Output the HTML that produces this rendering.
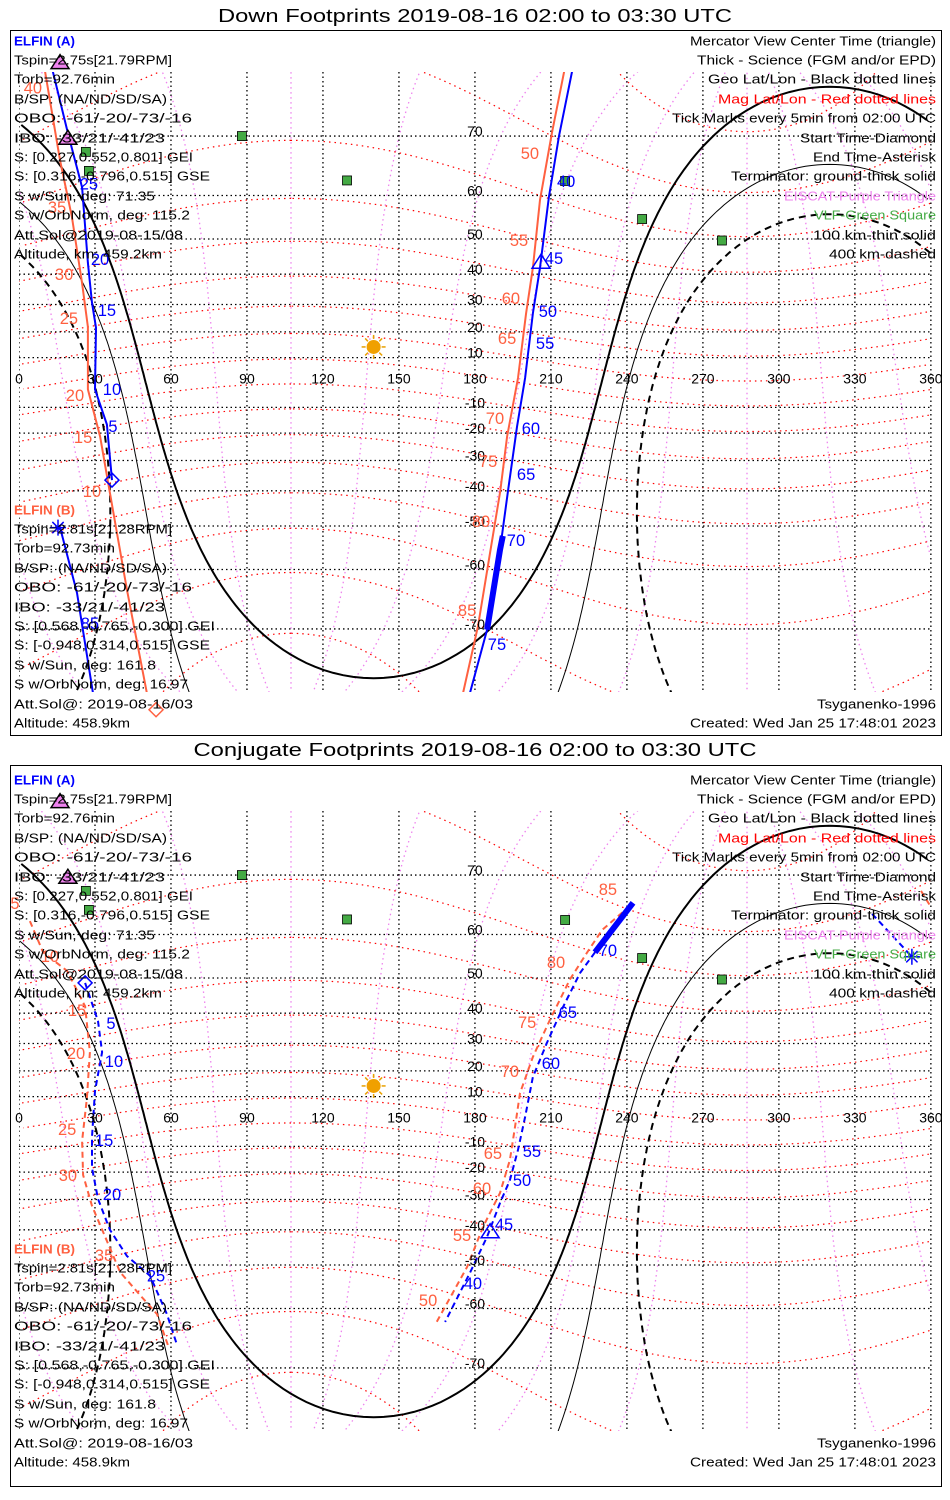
<!DOCTYPE html>
<html><head><meta charset="utf-8"><style>
html,body{margin:0;padding:0;background:#fff;}
svg{display:block;font-family:"Liberation Sans",sans-serif;}
</style></head><body>
<svg id="chart" width="950" height="1500" viewBox="0 0 950 1500" xmlns="http://www.w3.org/2000/svg">
<defs>
<clipPath id="clipTop"><rect x="19" y="72" width="913" height="620"/></clipPath>
<clipPath id="clipBot"><rect x="19" y="811" width="913" height="620"/></clipPath>
</defs>
<rect x="0" y="0" width="950" height="1500" fill="#fff"/>
<text x="475" y="22" text-anchor="middle" font-size="18" textLength="514" lengthAdjust="spacingAndGlyphs">Down Footprints 2019-08-16 02:00 to 03:30 UTC</text>
<text x="475" y="756" text-anchor="middle" font-size="18" textLength="563" lengthAdjust="spacingAndGlyphs">Conjugate Footprints 2019-08-16 02:00 to 03:30 UTC</text>
<rect x="10.5" y="30.5" width="931" height="705" fill="none" stroke="#000" stroke-width="1"/>
<rect x="10.5" y="765.5" width="931" height="721" fill="none" stroke="#000" stroke-width="1"/>
<g id="gTop" clip-path="url(#clipTop)"></g>
<g id="gBot" clip-path="url(#clipBot)"></g>
<g id="gLabels"></g>
<g id="gText"></g>
</svg>
<script>
// ---------- data ----------
const subsolarLon = 140, subsolarLat = 14.2;
const terminatorRadii = [90, 100.1, 109.8];
const magPoleLat = 80.6, magPoleLon = 287.4;
const magLatValues = [-80,-70,-60,-50,-40,-30,-20,-10,0,10,20,30,40,50,60,70,80];
const magLonBearings = [0,30,60,90,120,150,180,210,240,270,300,330];
const geoLatTicks = [-70,-60,-50,-40,-30,-20,-10,10,20,30,40,50,60,70];
const geoLonTicks = [0,30,60,90,120,150,180,210,240,270,300,330,360];
const eiscatLon = [16.2, 19.3], eiscatLat = [78.0, 69.7];
const vlfLon = [88, 26.4, 27.6, 129.5, 215.6, 246, 277.5];
const vlfLat = [70, 67.7, 64.6, 62.9, 62.8, 54.9, 49.6];

// Down footprints (top panel)
const downA1Lon = [36.7,34.7,30.0,30.4,28.8,27.2,24.9,19.3,13.4];
const downA1Lat = [-36.6,-16.7,-2.8,21.6,30.6,43.4,61.6,70.4,77.2];
const downA2Lon = [218.3,213.2,209.2,205.7,202.9,199.8,196.6,193.1,189.9,184.8,178.0];
const downA2Lat = [77.2,70.0,59.7,42.0,26.9,1.8,-17.6,-39.8,-55.8,-70.1,-77.2];
const downA3Lon = [16.2,22.9,29.2];
const downA3Lat = [-50.3,-64.4,-77.2];
const downAThickLon = [191.0,189.9,184.8];
const downAThickLat = [-52.5,-55.8,-70.1];
const downB1Lon = [10.3,16.2,20.9,24.9,27.2,27.2,32.0,35.9,42.6,50.5];
const downB1Lat = [77.2,66.4,55.4,37.1,21.9,-2.8,-21.3,-40.6,-63.8,-77.2];
const downB2Lon = [215.2,210.4,205.7,202.9,200.2,197.0,192.7,190.0,186.0,181.2,175.3];
const downB2Lat = [77.2,70.4,59.1,42.0,26.9,1.8,-21.3,-40.0,-56.4,-69.6,-77.2];
const downATickText = ['40','45','50','55','60','65','70','75','25','20','15','10','5','85'];
const downATickLon = [216.0,211.2,208.8,207.7,202.1,200.2,196.2,188.7,27.6,32.0,34.7,36.7,37.1,28.0];
const downATickLat = [62.8,44.8,27.7,15.7,-18.0,-34.6,-53.5,-72.0,62.3,44.5,28.1,-2.6,-17.3,-69.2];
const downBTickText = ['40','35','30','25','20','15','10','50','55','60','65','70','75','80','85'];
const downBTickLon = [5.5,15.0,17.8,19.7,22.1,25.3,28.8,201.7,197.4,194.2,192.7,187.9,185.2,182.4,176.9];
const downBTickLat = [75.7,57.6,40.0,25.2,-5.0,-21.5,-40.0,67.5,49.7,32.2,17.6,-14.2,-30.2,-48.7,-67.2];
const downAStart = [36.7,-36.6], downAEnd = [15.4,-50.4], downACenter = [206.1,43.6];
const downBStart = [54.1,-78.6];

// Conjugate footprints (bottom panel)
const conjA1Lon = [227.4,221.5,214.8,208.4,202.9,199.8,197.0,193.8,189.9,184.8,178.0,168.2];
const conjA1Lat = [56.2,51.3,41.9,30.2,17.7,1.8,-11.4,-23.0,-31.2,-42.1,-52.0,-62.6];
const conjAThickLon = [242.4,227.4];
const conjAThickLat = [65.8,56.2];
const conjA2Lon = [26.1,31.2,32.8,30.0,28.8,28.8,31.2,35.9,42.6,51.7,58.4,62.4];
const conjA2Lat = [48.7,37.5,26.9,12.2,-6.2,-18.4,-29.8,-40.0,-47.6,-52.7,-61.1,-66.6];
const conjA3Lon = [336.8,352.5];
const conjA3Lat = [63.9,55.2];
const conjB1Lon = [241.2,230.2,224.2,217.5,209.6,202.9,197.8,195.8,193.8,189.9,183.2,176.9,164.2];
const conjB1Lat = [65.3,60.9,56.1,49.6,37.9,25.2,11.4,-2.2,-15.3,-27.7,-39.1,-50.5,-63.2];
const conjB2Lon = [4.3,9.5,19.0,26.1,28.0,26.8,24.9,25.3,28.8,34.0,39.9,47.8,54.5,58.8];
const conjB2Lat = [62.6,56.2,51.8,42.1,26.9,9.4,-7.8,-21.1,-32.2,-42.1,-51.8,-57.2,-61.1,-66.6];
const conjB3Lon = [356.1,360];
const conjB3Lat = [67.7,65.1];
const conjATickText = ['70','65','60','55','50','45','40','5','10','15','20','25'];
const conjATickLon = [232.5,216.7,210.0,202.5,198.6,191.5,179.2,36.3,37.5,33.6,36.7,54.1];
const conjATickLat = [56.7,40.4,23.0,-11.8,-23.0,-38.2,-54.4,36.9,23.7,-7.4,-28.1,-52.7];
const conjBTickText = ['85','80','75','70','65','60','55','50','5','10','15','20','25','30','35'];
const conjBTickLon = [232.5,212.0,200.6,193.8,187.1,182.8,174.9,161.5,-1.6,12.2,22.9,22.5,19.0,19.3,33.6];
const conjBTickLat = [68.0,54.0,37.2,20.0,-12.6,-25.9,-41.6,-58.2,65.8,55.4,41.0,26.6,-3.0,-21.1,-47.3];
const conjAStart = [26.1,48.7], conjAEnd = [352.5,55.2], conjACenter = [186.0,-40.6];

// ---------- projection ----------
const NS = 'http://www.w3.org/2000/svg';
const D = Math.PI/180;
function X(lon){ return 19 + 2.533*lon; }
function Y(lat, y0){ const l = Math.max(-85, Math.min(85, lat))*D; return y0 - 142*Math.log(Math.tan(Math.PI/4 + l/2)); }
function mk(tag, attrs, parent){ const e = document.createElementNS(NS, tag); for (const k in attrs) e.setAttribute(k, attrs[k]); parent.appendChild(e); return e; }
function pathD(lons, lats, y0){
  let d = '';
  for (let i=0;i<lons.length;i++){
    const brk = i===0 || Math.abs(lons[i]-lons[i-1])>180;
    d += (brk?'M':'L') + X(lons[i]).toFixed(1) + ' ' + Y(lats[i],y0).toFixed(1) + ' ';
  }
  return d;
}
function smallCircle(clat, clon, r, step){
  const lons=[], lats=[];
  const a=clat*D, rr=r*D;
  for (let b=0;b<=360;b+=step){
    const bb=b*D;
    const la = Math.asin(Math.sin(a)*Math.cos(rr)+Math.cos(a)*Math.sin(rr)*Math.cos(bb));
    let lo = clon + Math.atan2(Math.sin(bb)*Math.sin(rr)*Math.cos(a), Math.cos(rr)-Math.sin(a)*Math.sin(la))/D;
    lo = ((lo%360)+360)%360;
    lons.push(lo); lats.push(la/D);
  }
  return [lons,lats];
}
function meridian(clat, clon, bearing){
  const lons=[], lats=[];
  const a=clat*D, bb=bearing*D;
  for (let r=0;r<=180;r+=1){
    const rr=r*D;
    const la = Math.asin(Math.sin(a)*Math.cos(rr)+Math.cos(a)*Math.sin(rr)*Math.cos(bb));
    let lo = clon + Math.atan2(Math.sin(bb)*Math.sin(rr)*Math.cos(a), Math.cos(rr)-Math.sin(a)*Math.sin(la))/D;
    lo = ((lo%360)+360)%360;
    lons.push(lo); lats.push(la/D);
  }
  return [lons,lats];
}

const BLUE='#0000ff', ORANGE='#ff6040', PURPLE='#ee82ee', GREEN='#44aa44';
const panels = [
  {g: document.getElementById('gTop'), y0: 382.5, top: 72, bottom: 692, name: 'top'},
  {g: document.getElementById('gBot'), y0: 1121.5, top: 811, bottom: 1431, name: 'bottom'}
];
const gL = document.getElementById('gLabels');

panels.forEach(P => {
  const g = P.g, y0 = P.y0;
  magLonBearings.forEach(b => {
    const [lo,la] = meridian(magPoleLat, magPoleLon, b);
    const e = mk('path',{d:pathD(lo,la,y0), fill:'none', stroke:PURPLE, 'stroke-width':1.3, 'stroke-dasharray':'1.5 3.5'}, g);
    
    
  });
  magLatValues.forEach(m => {
    const [lo,la] = smallCircle(magPoleLat, magPoleLon, 90-m, 2);
    const e = mk('path',{d:pathD(lo,la,y0), fill:'none', stroke:'#ff0000', 'stroke-width':1.2, 'stroke-dasharray':'1.5 4'}, g);
    
    
  });
  geoLatTicks.forEach(lat => {
    const y = Y(lat,y0);
    const e = mk('line',{x1:19,x2:932,y1:y,y2:y,stroke:'#000','stroke-width':1.3,'stroke-dasharray':'1.5 3'}, g);
    
    
  });
  geoLonTicks.forEach(lon => {
    const x = X(lon);
    const e = mk('line',{x1:x,x2:x,y1:P.top,y2:P.bottom,stroke:'#000','stroke-width':1.3,'stroke-dasharray':'1.5 3'}, g);
    
    
  });
  terminatorRadii.forEach((r,i) => {
    const [lo,la] = smallCircle(subsolarLat, subsolarLon, r, 1);
    const st = i===0 ? {w:2,da:''} : (i===1 ? {w:1,da:''} : {w:2,da:'7 5'});
    const attrs = {d:pathD(lo,la,y0), fill:'none', stroke:'#000', 'stroke-width':st.w};
    if (st.da) attrs['stroke-dasharray']=st.da;
    const e = mk('path', attrs, g);
    
    
  });
  const sx=X(subsolarLon), sy=Y(subsolarLat,y0);
  for (let k=0;k<8;k++){
    const a=k*Math.PI/4;
    const ray = mk('line',{x1:sx+8*Math.cos(a),y1:sy+8*Math.sin(a),x2:sx+12*Math.cos(a),y2:sy+12*Math.sin(a),stroke:'#e8a000','stroke-width':1.5}, g);
    
    
  }
  const sun = mk('circle',{cx:sx,cy:sy,r:7,fill:'#f0a000'}, g);
  
  
  vlfLon.forEach((lo,i) => {
    const sq = mk('rect',{x:X(lo)-4.5,y:Y(vlfLat[i],y0)-4.5,width:9,height:9,fill:GREEN,stroke:'#000','stroke-width':0.8}, g);
    
    
  });
  geoLonTicks.forEach(lon => {
    const t = mk('text',{x:X(lon),y:y0+1,'text-anchor':'middle','font-size':14}, gL);
    t.textContent = String(lon);
    
    
  });
  geoLatTicks.forEach(lat => {
    const t = mk('text',{x:X(180),y:Y(lat,y0),'text-anchor':'middle','font-size':14}, gL);
    t.textContent = String(lat);
    
    
  });
});

function track(P, lons, lats, color, width, dash, name){
  const attrs = {d:pathD(lons,lats,P.y0), fill:'none', stroke:color, 'stroke-width':width, 'stroke-linecap':'butt'};
  if (dash) attrs['stroke-dasharray']=dash;
  const e = mk('path', attrs, P.g);
  
  
}
function ticks(P, txt, lons, lats, color, name){
  txt.forEach((s,i) => {
    const t = mk('text',{x:X(lons[i]),y:Y(lats[i],P.y0)+6,'text-anchor':'middle','font-size':16.5,fill:color}, gL);
    t.textContent = s;
    
    
  });
}
function diamond(P, pt, color, name){
  const x=X(pt[0]), y=Y(pt[1],P.y0);
  const e = mk('path',{d:`M${x} ${y-7} L${x+7} ${y} L${x} ${y+7} L${x-7} ${y} Z`, fill:'none', stroke:color,'stroke-width':1.5}, gL);
  
  
}
function asterisk(P, pt, color, name){
  const x=X(pt[0]), y=Y(pt[1],P.y0);
  let d='';
  for (let k=0;k<4;k++){ const a=k*Math.PI/4; d+=`M${x-8*Math.cos(a)} ${y-8*Math.sin(a)} L${x+8*Math.cos(a)} ${y+8*Math.sin(a)} `; }
  const e = mk('path',{d:d, fill:'none', stroke:color,'stroke-width':1.5}, gL);
  
  
}
function triangle(P, lon, lat, color, fill, name){
  const x=X(lon), y=Y(lat,P.y0);
  const e = mk('path',{d:`M${x} ${y-8} L${x+9} ${y+6} L${x-9} ${y+6} Z`, fill:fill, stroke:color,'stroke-width':1.5}, gL);
  
  
}

const PT = panels[0], PB = panels[1];
track(PT, downB1Lon, downB1Lat, ORANGE, 2, '', 'elfin-b-track');
track(PT, downB2Lon, downB2Lat, ORANGE, 2, '', 'elfin-b-track');
track(PT, downA1Lon, downA1Lat, BLUE, 2, '', 'elfin-a-track');
track(PT, downA2Lon, downA2Lat, BLUE, 2, '', 'elfin-a-track');
track(PT, downA3Lon, downA3Lat, BLUE, 2, '', 'elfin-a-track');
track(PT, downAThickLon, downAThickLat, BLUE, 6, '', 'elfin-a-science');
ticks(PT, downATickText, downATickLon, downATickLat, BLUE, 'elfin-a-tick-label');
ticks(PT, downBTickText, downBTickLon, downBTickLat, ORANGE, 'elfin-b-tick-label');
diamond(PT, downAStart, BLUE, 'elfin-a-start');
diamond(PT, downBStart, ORANGE, 'elfin-b-start');
asterisk(PT, downAEnd, BLUE, 'elfin-a-end');
triangle(PT, downACenter[0], downACenter[1], BLUE, 'none', 'elfin-a-center');
track(PB, conjB1Lon, conjB1Lat, ORANGE, 2, '6 4', 'elfin-b-conj-track');
track(PB, conjB2Lon, conjB2Lat, ORANGE, 2, '6 4', 'elfin-b-conj-track');
track(PB, conjB3Lon, conjB3Lat, ORANGE, 2, '6 4', 'elfin-b-conj-track');
track(PB, conjA1Lon, conjA1Lat, BLUE, 2, '6 4', 'elfin-a-conj-track');
track(PB, conjA2Lon, conjA2Lat, BLUE, 2, '6 4', 'elfin-a-conj-track');
track(PB, conjA3Lon, conjA3Lat, BLUE, 2, '6 4', 'elfin-a-conj-track');
track(PB, conjAThickLon, conjAThickLat, BLUE, 6, '', 'elfin-a-conj-science');
ticks(PB, conjATickText, conjATickLon, conjATickLat, BLUE, 'elfin-a-conj-tick-label');
ticks(PB, conjBTickText, conjBTickLon, conjBTickLat, ORANGE, 'elfin-b-conj-tick-label');
diamond(PB, conjAStart, BLUE, 'elfin-a-conj-start');
asterisk(PB, conjAEnd, BLUE, 'elfin-a-conj-end');
triangle(PB, conjACenter[0], conjACenter[1], BLUE, 'none', 'elfin-a-conj-center');
panels.forEach(P => {
  eiscatLon.forEach((lo,i) => triangle(P, lo, eiscatLat[i], '#000', PURPLE, 'eiscat-station'));
});

// ---------- info text ----------
const gT = document.getElementById('gText');
const infoA = [['ELFIN (A)',75,BLUE,true],['Tspin=2.75s[21.79RPM]',172],['Torb=92.76min',115],['B/SP: (NA/ND/SD/SA)',167],['OBO: -61/-20/-73/-16',192],['IBO: -33/21/-41/23',165],['S: [0.227,0.552,0.801] GEI',193],['S: [0.316,-0.796,0.515] GSE',210],['S w/Sun, deg: 71.35',155],['S w/OrbNorm, deg: 115.2',190],['Att.Sol@2019-08-15/08',183],['Altitude, km: 459.2km',162]];
const infoAY = [41,60,79,99,118,138,157,176,196,215,235,254];
const infoB = [['ELFIN (B)',75,ORANGE,true],['Tspin=2.81s[21.28RPM]',172],['Torb=92.73min',115],['B/SP: (NA/ND/SD/SA)',167],['OBO: -61/-20/-73/-16',192],['IBO: -33/21/-41/23',165],['S: [0.568,-0.765,-0.300] GEI',215],['S: [-0.948,0.314,0.515] GSE',210],['S w/Sun, deg: 161.8',156],['S w/OrbNorm, deg: 16.97',188],['Att.Sol@: 2019-08-16/03',193],['Altitude: 458.9km',130]];
const infoBY = [510,529,548,568,587,607,626,645,665,684,704,723];
const legend = [['Mercator View Center Time (triangle)',246,'#000'],['Thick - Science (FGM and/or EPD)',239,'#000'],['Geo Lat/Lon - Black dotted lines',228,'#000'],['Mag Lat/Lon - Red dotted lines',218,'#ff0000'],['Tick Marks every 5min from 02:00 UTC',264,'#000'],['Start Time-Diamond',136,'#000'],['End Time-Asterisk',123,'#000'],['Terminator: ground-thick solid',205,'#000'],['EISCAT-Purple Triangle',152,PURPLE],['VLF-Green Square',122,GREEN],['100 km-thin solid',123,'#000'],['400 km-dashed',107,'#000']];
function txt(s, x, y, w, color, anchor, bold, name){
  const t = mk('text',{x:x,y:y,'font-size':13,fill:color||'#000','text-anchor':anchor||'start',textLength:w,lengthAdjust:'spacingAndGlyphs'}, gT);
  if (bold) t.setAttribute('font-weight','bold');
  t.textContent = s;
  
  
}
[0,739].forEach(off => {
  infoA.forEach((r,i) => txt(r[0], 14, infoAY[i]+4.5+off, r[1]-14, r[2], 'start', r[3], i===0?'elfin-a-header':'elfin-a-info'));
  infoB.forEach((r,i) => txt(r[0], 14, infoBY[i]+4.5+off, r[1]-14, r[2], 'start', r[3], i===0?'elfin-b-header':'elfin-b-info'));
  legend.forEach((r,i) => txt(r[0], 936, infoAY[i]+4.5+off, r[1], r[2], 'end', false, 'legend-entry'));
  txt('Tsyganenko-1996', 936, 704+4.5+off, 119, '#000', 'end', false, 'model-label');
  txt('Created: Wed Jan 25 17:48:01 2023', 936, 723+4.5+off, 246, '#000', 'end', false, 'created-timestamp');
});
</script>
</body></html>
